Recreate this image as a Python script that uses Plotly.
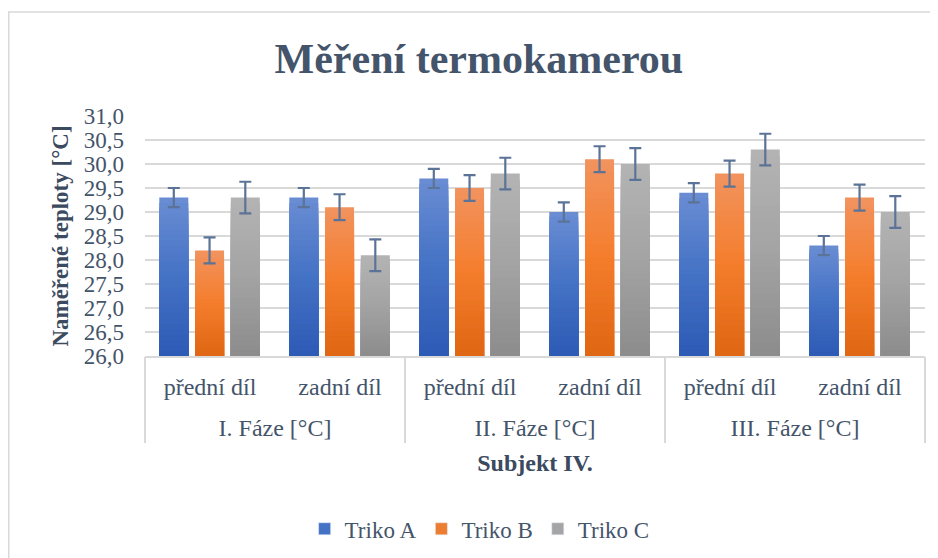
import plotly.graph_objects as go

phases = ["I. Fáze [°C]", "I. Fáze [°C]", "II. Fáze [°C]", "II. Fáze [°C]", "III. Fáze [°C]", "III. Fáze [°C]"]
parts = ["přední díl", "zadní díl", "přední díl", "zadní díl", "přední díl", "zadní díl"]

series_names = ["Triko A", "Triko B", "Triko C"]
triko_a = [29.3, 29.3, 29.7, 29.0, 29.4, 28.3]
triko_b = [28.2, 29.1, 29.5, 30.1, 29.8, 29.3]
triko_c = [29.3, 28.1, 29.8, 30.0, 30.3, 29.0]
err_a = [0.2, 0.2, 0.2, 0.2, 0.2, 0.2]
err_b = [0.27, 0.27, 0.27, 0.27, 0.27, 0.27]
err_c = [0.33, 0.33, 0.33, 0.33, 0.33, 0.33]

y_min, y_max, y_step = 26.0, 31.0, 0.5

values = [triko_a, triko_b, triko_c]
errors = [err_a, err_b, err_c]
grad = [
    ["#6A8DD4", "#4472C4", "#2D5AB5"],
    ["#F2935E", "#F47D2C", "#DF6612"],
    ["#B4B4B4", "#A3A3A3", "#8C8C8C"],
]
legend_colors = ["#4472C4", "#ED7D31", "#A5A5A5"]
offsets = [-0.39, -0.115, 0.16]
bar_w = 0.223
N = 30

# category positions on the x axis (derived from the category list)
xpos = list(range(len(parts)))
group_names = []
for p in phases:
    if p not in group_names:
        group_names.append(p)
group_centers = [sum(i for i, p in enumerate(phases) if p == g) / phases.count(g) for g in group_names]
group_bounds = [-0.5] + [max(i for i, p in enumerate(phases) if p == g) + 0.5 for g in group_names]
x_range = [-0.5, len(parts) - 0.5]


def hex2rgb(h):
    h = h.lstrip("#")
    return [int(h[i:i + 2], 16) for i in (0, 2, 4)]


def lerp(c1, c2, t):
    a, b = hex2rgb(c1), hex2rgb(c2)
    return "rgb({},{},{})".format(*[round(a[i] + (b[i] - a[i]) * t) for i in range(3)])


def grad_color(stops, t):
    if t < 0.5:
        return lerp(stops[0], stops[1], t / 0.5)
    return lerp(stops[1], stops[2], (t - 0.5) / 0.5)


fig = go.Figure()
for s in range(3):
    vals = values[s]
    for k in range(N):
        frac = (N - k) / N
        t = (k + 0.5) / N
        fig.add_trace(go.Bar(
            x=xpos, y=[(v - y_min) * frac for v in vals], base=y_min,
            width=bar_w, offset=offsets[s],
            marker=dict(color=grad_color(grad[s], t), line=dict(width=0)),
            showlegend=False, hoverinfo="skip",
        ))
    fig.add_trace(go.Bar(
        x=xpos, y=[v - y_min for v in vals], base=y_min,
        width=bar_w, offset=offsets[s], name=series_names[s],
        marker=dict(color="rgba(0,0,0,0)", line=dict(width=0)),
        error_y=dict(type="data", array=errors[s], visible=True,
                     color="#5B7396", thickness=2.2, width=6),
        showlegend=False,
    ))

for s in range(3):
    fig.add_trace(go.Bar(
        x=[xpos[0]], y=[None], name=series_names[s],
        marker=dict(color=legend_colors[s]), showlegend=True,
    ))

# empty traces so the extra axes are drawn
fig.add_trace(go.Scatter(x=[], y=[], xaxis="x2", showlegend=False))
fig.add_trace(go.Scatter(x=[], y=[], xaxis="x3", showlegend=False))

font_family = "Liberation Serif, Times New Roman, serif"
text_color = "#44546A"
title_color = "#3B4A5E"
grid_color = "#D9D9D9"

fig.update_layout(
    width=938, height=558,
    barmode="overlay",
    separators=", ",
    paper_bgcolor="white", plot_bgcolor="white",
    margin=dict(l=137, r=21, t=108, b=210, autoexpand=False),
    font=dict(family=font_family, size=23, color=text_color),
    title=dict(text="<b>Měření termokamerou</b>", x=0.502, xanchor="center",
               y=0.9095, yanchor="middle",
               font=dict(family=font_family, size=42, color=text_color)),
    legend=dict(orientation="h", x=0.429, xanchor="center", y=-0.72, yanchor="middle",
                font=dict(family=font_family, size=23, color=text_color), itemwidth=30,
                traceorder="normal"),
    showlegend=True,
    xaxis=dict(
        range=x_range, tickmode="array", tickvals=xpos, ticktext=parts,
        showline=True, linecolor=grid_color, linewidth=1.5,
        ticks="", showgrid=False, zeroline=False, automargin=False,
        tickfont=dict(size=24), ticklabelstandoff=8,
    ),
    xaxis2=dict(
        overlaying="x", anchor="y", side="bottom", range=x_range,
        tickmode="array", tickvals=group_centers, ticktext=group_names,
        showline=False, ticks="", showgrid=False, zeroline=False, automargin=False,
        tickfont=dict(size=24), ticklabelstandoff=55,
        title=dict(text="<b>Subjekt IV.</b>", font=dict(size=24, color=title_color), standoff=14),
    ),
    xaxis3=dict(
        overlaying="x", anchor="y", side="bottom", range=x_range,
        tickmode="array", tickvals=group_bounds, showticklabels=False,
        ticks="outside", ticklen=86, tickwidth=1.5, tickcolor=grid_color,
        showline=False, showgrid=False, zeroline=False, automargin=False,
    ),
    yaxis=dict(
        range=[y_min, y_max], dtick=y_step, tick0=y_min, tickformat=".1f",
        showgrid=True, gridcolor=grid_color, gridwidth=1.5,
        zeroline=False, showline=False, ticks="", ticklabelstandoff=20,
        automargin=False, tickfont=dict(size=23),
        title=dict(text="<b>Naměřené teploty [°C]</b>", font=dict(size=23, color=title_color), standoff=8),
    ),
)

# outer chart border (top and left edges visible)
fig.add_shape(type="rect", xref="paper", yref="paper",
              x0=(0.75 - 137) / 780, x1=(960 - 137) / 780,
              y0=(348 - 600) / 240, y1=(348 - 4) / 240,
              line=dict(color="#D9D9D9", width=1.5), fillcolor="rgba(0,0,0,0)", layer="below")

fig.write_html("out.html")
